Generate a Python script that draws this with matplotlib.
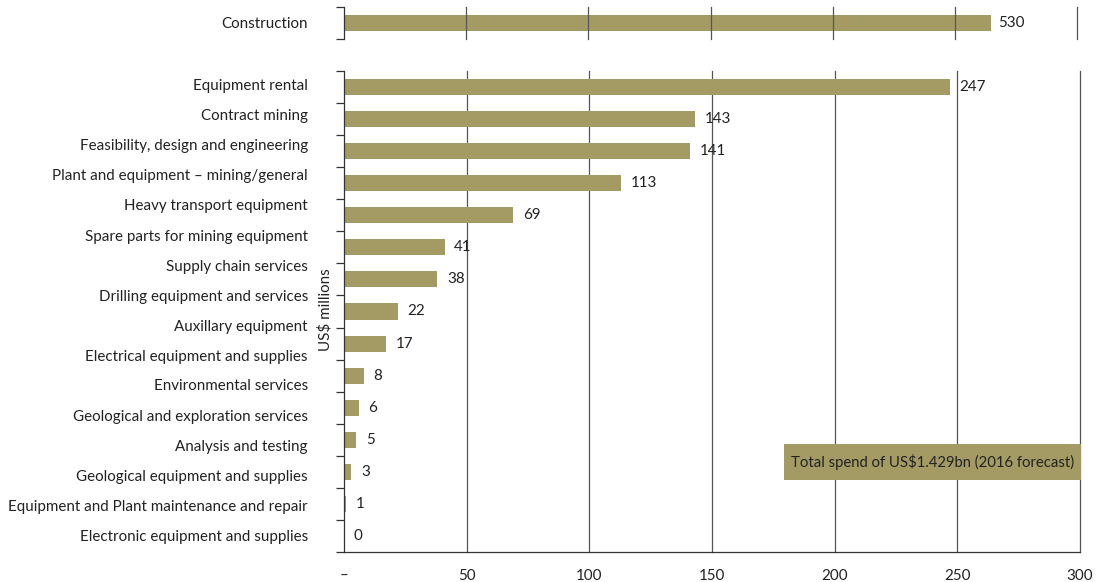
import matplotlib
matplotlib.use("Agg")
import matplotlib.pyplot as plt
from matplotlib.patches import Rectangle

plt.rcParams['font.family'] = ['Lato', 'DejaVu Sans']

# Data (US$ millions)
top_category = ["Construction"]
top_values = [530]

categories = [
    "Equipment rental",
    "Contract mining",
    "Feasibility, design and engineering",
    "Plant and equipment – mining/general",
    "Heavy transport equipment",
    "Spare parts for mining equipment",
    "Supply chain services",
    "Drilling equipment and services",
    "Auxillary equipment",
    "Electrical equipment and supplies",
    "Environmental services",
    "Geological and exploration services",
    "Analysis and testing",
    "Geological equipment and supplies",
    "Equipment and Plant maintenance and repair",
    "Electronic equipment and supplies",
]
values = [247, 143, 141, 113, 69, 41, 38, 22, 17, 8, 6, 5, 3, 1, 0]

x_ticks = [0, 50, 100, 150, 200, 250, 300]
x_ticklabels = ["–", "50", "100", "150", "200", "250", "300"]
top_grid = [100, 200, 300, 400, 500, 600]

note = "Total spend of US$1.429bn (2016 forecast)"
axis_label = "US$ millions"

BAR = "#a39b63"
GRID = "#555555"
TXT = "#222222"
FS = 10.9

W, H = 1108, 582
fig = plt.figure(figsize=(W / 100, H / 100), dpi=100)


def rect(x0, y0, x1, y1):
    return [x0 / W, 1 - y1 / H, (x1 - x0) / W, (y1 - y0) / H]


# ---- top panel: Construction on its own scale ----
ax_top = fig.add_axes(rect(344, 7, 1077, 39))
ax_top.set_xlim(0, 600)
ax_top.set_ylim(0.5, -0.5)
ax_top.barh(range(len(top_values)), top_values, height=0.5, color=BAR, zorder=1)
for g in top_grid:
    ax_top.axvline(g, color=GRID, lw=0.9, zorder=3, clip_on=False)
for i, v in enumerate(top_values):
    ax_top.annotate(str(v), (v, i), xytext=(5, 0), textcoords="offset points",
                    va="center", ha="left", fontsize=FS, color=TXT)
ax_top.set_xticks([])
ax_top.set_yticks(range(len(top_category)), minor=False)
ax_top.set_yticklabels(top_category, fontsize=FS, color=TXT)
ax_top.tick_params(axis="y", which="major", length=0, pad=26)
ax_top.set_yticks([-0.5, 0.5], minor=True)
ax_top.tick_params(axis="y", which="minor", length=6, width=0.9,
                   color="#333333", direction="out")
for s in ["top", "right", "bottom"]:
    ax_top.spines[s].set_visible(False)
ax_top.spines["left"].set_linewidth(0.9)
ax_top.spines["left"].set_color("#333333")

# ---- main panel ----
ax = fig.add_axes(rect(344, 71, 1080, 552))
ax.set_xlim(0, 300)
n = len(values)
ax.set_ylim(n - 0.5, -0.5)
ax.barh(range(n), values, height=0.5, color=BAR, zorder=2)
for g in x_ticks[1:]:
    ax.axvline(g, color=GRID, lw=0.9, zorder=1, clip_on=False)
for i, v in enumerate(values):
    ax.annotate(str(v), (v, i), xytext=(7, 0), textcoords="offset points",
                va="center", ha="left", fontsize=FS, color=TXT)

ax.set_xticks(x_ticks)
ax.set_xticklabels(x_ticklabels, fontsize=FS, color=TXT)
ax.tick_params(axis="x", length=0, pad=12)
ax.set_yticks([k - 0.5 for k in range(n + 1)])
ax.set_yticklabels([])
ax.tick_params(axis="y", length=6, width=0.9, color="#333333", direction="out")
for s in ["top", "right"]:
    ax.spines[s].set_visible(False)
for s in ["left", "bottom"]:
    ax.spines[s].set_linewidth(0.9)
    ax.spines[s].set_color("#333333")

# category labels, evenly spaced down the left side
ax_lab = fig.add_axes(rect(344, 71, 1080, 552), frameon=False)
ax_lab.set_xlim(0, 1)
ax_lab.set_ylim((552 - 85) / 30, (71 - 85) / 30)
ax_lab.set_xticks([])
ax_lab.set_yticks(range(len(categories)))
ax_lab.set_yticklabels(categories, fontsize=FS, color=TXT)
ax_lab.tick_params(axis="y", length=0, pad=26)
ax_lab.patch.set_visible(False)

ax.text(-0.026, 0.503, axis_label, transform=ax.transAxes, rotation=90,
        ha="center", va="center", fontsize=FS, color=TXT)

# total spend note
ax.add_patch(Rectangle((0.598, 0.150), 0.403, 0.0745, transform=ax.transAxes,
                       facecolor=BAR, edgecolor="none", zorder=4, clip_on=False))
ax.text(0.8, 0.187, note, transform=ax.transAxes, ha="center", va="center",
        fontsize=10.7, color=TXT, zorder=5)

fig.savefig("out.png", dpi=100)
